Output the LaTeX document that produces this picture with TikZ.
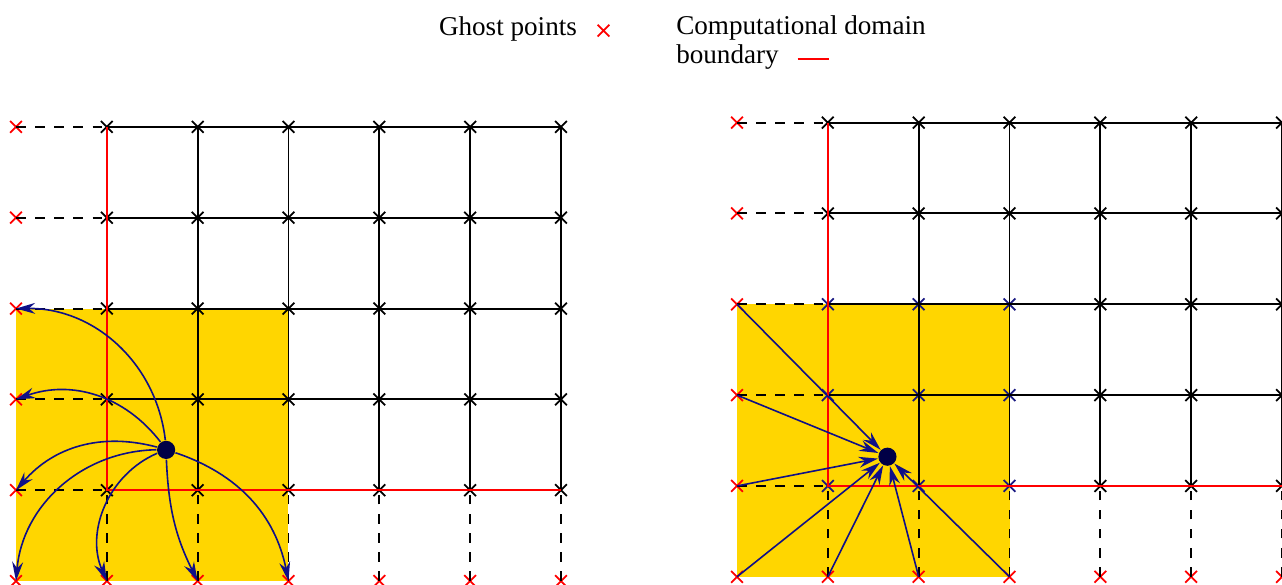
\documentclass[tikz,border=0pt]{standalone}
\usepackage{fontspec}
\setmainfont{Liberation Serif}
\usetikzlibrary{arrows.meta,shapes.misc,positioning}
\definecolor{gold}{RGB}{255,214,0}
\definecolor{arrowblue}{RGB}{15,15,135}
\definecolor{dotblue}{RGB}{0,0,70}
\definecolor{markblue}{RGB}{25,25,130}

\begin{document}
\begin{tikzpicture}[>={Stealth[length=6pt,width=3.4pt]},
   every node/.style={font=\fontsize{8.5pt}{8.8pt}\selectfont},
   gridmark/.style={cross out,draw,minimum size=0.11cm,inner sep=0pt,line width=0.55pt},
   ghost/.style={gridmark,draw=red},
   gridline/.style={line width=0.6pt},
   bnd/.style={red,line width=0.6pt},
   link/.style={->,arrowblue,line width=0.5pt},
   src/.style={circle,fill=dotblue,minimum size=0.2cm,inner sep=0pt}]
  \useasboundingbox (-0.176,-0.033) rectangle (13.938,6.397);
  \foreach \p/\sx/\sy/\mc in {L/0/0/black,R/7.938/0.047/markblue}{
    \begin{scope}[shift={(\sx,\sy)}]
      \fill[gold] (0,0) rectangle (3,3);
      \foreach \y in {0,...,5}
        \node[ghost] (\p-0-\y) at (0,\y) {};
      \foreach \x in {1,...,6}
        \node[ghost] (\p-\x-0) at (\x,0) {};
      \foreach \x in {1,...,6}
        \foreach \y in {1,...,5}{
          \def\cc{black}
          \ifnum\x<4 \ifnum\y<4 \let\cc\mc\fi\fi
          \node[gridmark,draw=\cc] (\p-\x-\y) at (\x,\y) {};
        }
      \foreach \y in {1,...,5}
        \draw[dashed,gridline] (\p-0-\y.center) -- (\p-1-\y.center);
      \foreach \x in {1,...,6}
        \draw[dashed,gridline] (\p-\x-0.center) -- (\p-\x-1.center);
      \foreach \y in {2,...,5}
        \draw[gridline] (\p-1-\y.center) -- (\p-6-\y.center);
      \foreach \x in {2,...,6}
        \draw[gridline] (\p-\x-1.center) -- (\p-\x-5.center);
      \draw[bnd] (\p-1-5.center) -- (\p-1-1.center) -- (\p-6-1.center);
    \end{scope}
  }

  \node[src] (L-dot) at (1.653,1.444) {};
  \node[src] (R-dot) at (9.594,1.369) {};

  \draw[link] (L-dot) to[bend right=42] (L-0-3.center);
  \draw[link] (L-dot) to[bend right=36] (L-0-2.center);
  \draw[link] (L-dot) to[bend right=32] (L-0-1.center);
  \draw[link] (L-dot) to[bend right=42] (L-0-0.center);
  \draw[link] (L-dot) to[bend right=45] (L-1-0.center);
  \draw[link] (L-dot) to[bend right=12] (L-2-0.center);
  \draw[link] (L-dot) to[bend left=30] (L-3-0.center);

  \foreach \t in {0-3,0-2,0-1,0-0,1-0,2-0,3-0}
    \draw[link] (R-\t.center) -- (R-dot);

  \node[anchor=base west,inner sep=0pt] (ghostlbl) at (4.65,6.006) {Ghost points};
  \node[ghost] (ghostkey) at (6.468,6.061) {};
  \node[anchor=base west,align=left,inner sep=0pt] (bndlbl) at (7.262,5.703)
    {Computational domain\\boundary};
  \coordinate (bndkey-a) at (8.606,5.752);
  \coordinate (bndkey-b) at (8.948,5.752);
  \draw[bnd] (bndkey-a) -- (bndkey-b);
\end{tikzpicture}
\end{document}
